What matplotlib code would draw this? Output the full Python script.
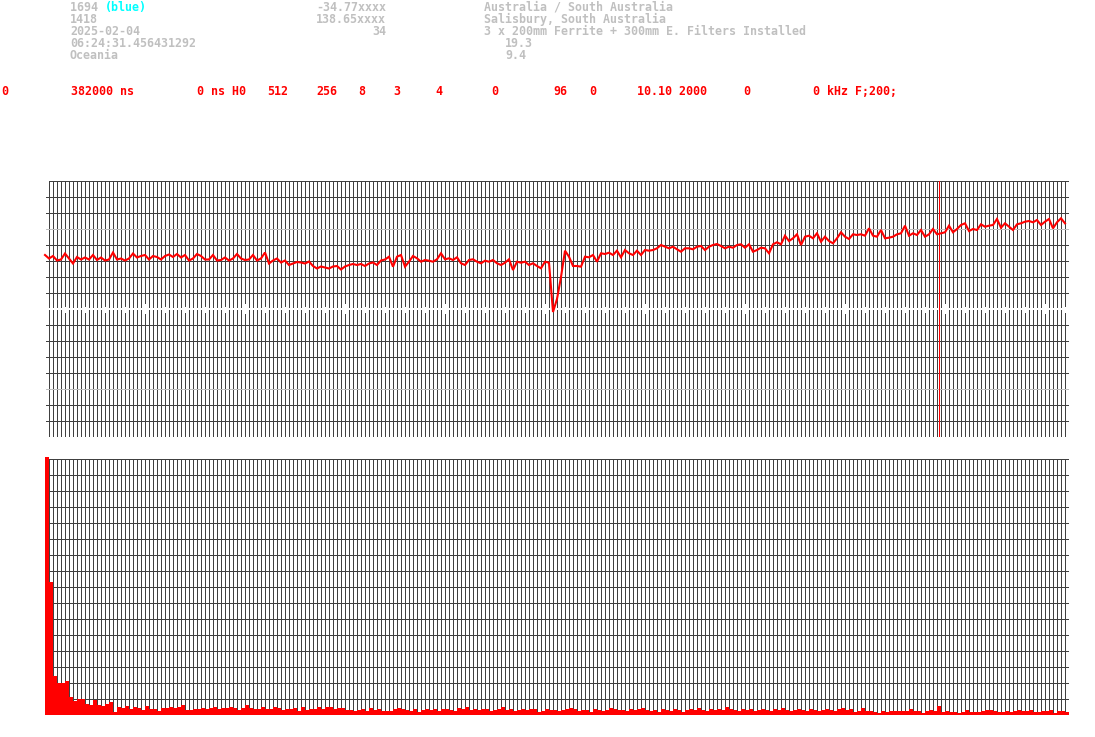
import numpy as np
import matplotlib
matplotlib.use("Agg")
import matplotlib.pyplot as plt

# ---------------- data ----------------
header_col1 = ["1694 ", "1418", "2025-02-04", "06:24:31.456431292", "Oceania"]
header_blue = "(blue)"
header_col2 = ["-34.77xxxx", "138.65xxxx", "34"]
header_col3 = ["Australia / South Australia", "Salisbury, South Australia",
               "3 x 200mm Ferrite + 300mm E. Filters Installed"]
header_col3b = ["19.3", "9.4"]
status_tokens = ["0", "382000 ns", "0 ns H0", "512", "256", "8", "3", "4", "0",
                 "96", "0", "10.10 2000", "0", "0 kHz F;200;"]
status_x = [1, 71, 197, 267, 316, 358, 393, 435, 491, 553, 589, 637, 743, 813]

# waveform amplitude (256 samples, centre line = 0, panel = +-128)
trace = [
    54, 50.5, 53, 48.5, 49.5, 55.5, 50.5, 45.5, 52, 49.5,
    51.5, 49.5, 54, 49, 51.5, 48.5, 49.5, 56.5, 49.5, 50.5,
    48.5, 50.5, 55.5, 51.5, 53, 54, 49.5, 53, 52, 49.5,
    53, 54.5, 52, 55, 51.5, 54, 48.5, 50.5, 55, 53,
    49.5, 49.5, 54, 48.5, 49, 51.5, 48.5, 50.5, 55, 50.5,
    49, 49.5, 54, 48.5, 50.5, 56.5, 45.5, 48.5, 50.5, 46.5,
    48.5, 44, 45.5, 47, 46.5, 45.5, 47.5, 43, 40.5, 42.5,
    41.5, 40.5, 42.5, 43, 39.5, 42.5, 44, 45, 44, 45,
    43, 45.5, 46.5, 44, 48.5, 49.5, 52.3, 42.3, 52.3, 54,
    42.3, 47.3, 53, 50.7, 47.3, 49, 48.3, 47.3, 49.7, 55.7,
    49.7, 50.7, 49, 51.7, 45.7, 44, 49, 49.7, 47.3, 45.7,
    48.3, 47.3, 49, 45.7, 44, 46.3, 49.7, 39, 47.3, 46.3,
    47.3, 44, 45.7, 43, 40.7, 47.3, 46.3, -3, 10, 32,
    58.3, 52.3, 43, 43, 42.3, 52.3, 51.7, 54, 47.3, 55.7,
    55, 56.3, 54, 58.3, 51.7, 59, 55.7, 54, 58.3, 54,
    59, 58.3, 59, 60.7, 64, 62.3, 60.7, 62.3, 59.7, 57.3,
    60.7, 60.7, 59.7, 62.3, 63, 59, 62.3, 64, 65, 63,
    60.7, 62.3, 61.3, 64, 64.7, 61.3, 64.7, 57.3, 59, 61.3,
    60.7, 55.7, 64.7, 66.7, 64.7, 73.3, 68, 70.7, 74.7, 64,
    72.3, 73.3, 70.7, 75.7, 67.3, 72.3, 68, 65.7, 70.7, 76.7,
    72.3, 70, 74.7, 74, 74.7, 73.3, 80.7, 73.3, 72.3, 79,
    70.7, 71.3, 72.3, 74.7, 75.7, 83.3, 73.3, 75.7, 74, 79,
    72.3, 74.7, 80, 74.7, 75.7, 76.7, 83.3, 76.7, 80, 84,
    85.7, 78, 80, 79, 84.7, 82.3, 83.3, 84, 90, 81.3,
    85.7, 82.3, 79, 84.7, 85.7, 87.3, 88, 86.7, 89, 84,
    87.3, 90, 80.7, 86.7, 90.7, 85.7,
]

# spectrum bars (256 bins)
spectrum = [
    258, 133, 39, 32, 32, 34, 18, 14, 16, 16,
    11, 10, 15, 10, 9, 11, 13, 3, 8, 7,
    9, 6, 8, 7, 5, 9, 6, 6, 4, 7,
    7, 8, 7, 8, 10, 5, 5, 6, 6, 7,
    6, 7, 8, 6, 7,
    7, 8, 7, 5, 7, 10, 7, 6, 6, 8,
    6, 6, 8, 7, 5, 6, 6, 7, 4, 8,
    5, 6, 6, 8, 6, 8, 8, 6, 7, 7,
    5, 5, 4, 5, 6, 4, 7, 5, 6, 4,
    4, 4, 6, 7, 6, 5, 4, 6, 3, 5,
    6, 5, 6, 4, 6, 6, 5, 4, 7, 6,
    8, 5, 6, 5, 6, 6, 4, 5, 6, 8,
    5, 6, 4, 5, 6, 5, 6, 6, 3, 4,
    6, 5, 5, 4, 5, 6, 7, 6, 4, 5,
    5, 3, 6, 5, 4, 5, 7, 6, 5, 5,
    4, 6, 5, 6, 7, 5, 4, 5, 3, 6,
    5, 4, 6, 5, 3, 5, 6, 5, 7, 5,
    4, 6, 5, 6, 5, 8, 6, 5, 4, 6,
    5, 6, 4, 5, 6, 5, 4, 6, 5, 7,
    5, 4, 5, 6, 5, 4, 6, 5, 4, 5,
    6, 5, 4, 6, 7, 5, 6,
    3, 4, 7, 4, 4, 3, 2, 4, 3, 4,
    4, 4, 4, 4, 6, 4, 4, 2, 4, 5,
    4, 9, 3, 4, 3, 3, 2, 3, 5, 3,
    3, 3, 4, 5, 5, 4, 3, 3, 4, 3,
    4, 5, 4, 4, 5, 3, 3, 4, 4, 5,
    2, 4, 4, 3,
]
marker_pos = 223.5   # red marker line in the waveform panel

# ---------------- figure ----------------
W, H = 1095, 737
fig = plt.figure(figsize=(W / 100, H / 100), dpi=100)
fig.patch.set_facecolor("white")

def box(x0, y0, x1, y1):
    return [x0 / W, 1 - y1 / H, (x1 - x0) / W, (y1 - y0) / H]

GRID = "#404040"
LIGHT = "#c0c0c0"
PX = 0.72  # one pixel in points

ax1 = fig.add_axes(box(45, 181, 1069, 437))
ax1.set_xlim(0, 256)
ax1.set_ylim(-128, 128)
ax1.axis("off")

ax2 = fig.add_axes(box(45, 459, 1069, 715))
ax2.set_xlim(0, 256)
ax2.set_ylim(0, 256)
ax2.axis("off")

cols = np.arange(1, 257)

# top panel grid
ax1.vlines(cols, -128, 128, colors=GRID, lw=PX, antialiased=False, zorder=1)
for k in range(17):
    lvl = -128 + 16 * k
    if lvl == 0:
        continue
    c = LIGHT if abs(lvl) == 80 else GRID
    x0 = 1 if k == 16 else 0.25
    ax1.hlines(lvl, x0, 256, colors=c, lw=PX, antialiased=False, zorder=2)
# white centre line with ticks
ax1.hlines(0, 0.25, 256, colors="white", lw=2 * PX, antialiased=False, zorder=3)
tick_x = np.arange(0, 256, 5)
small = tick_x[tick_x % 25 != 0]
big = tick_x[tick_x % 25 == 0]
ax1.vlines(small, -2.5, 2.5, colors="white", lw=PX, antialiased=False, zorder=3)
ax1.vlines(big, -5, 5, colors="white", lw=PX * 1.5, antialiased=False, zorder=3)
ax1.vlines([marker_pos], -128, 128, colors="red", lw=PX, antialiased=False, zorder=4)
ax1.plot(np.arange(len(trace)), trace, color="red", lw=1.5, zorder=5, clip_on=False,
         solid_joinstyle="miter")

# bottom panel grid + bars
ax2.vlines(cols, 0, 256, colors=GRID, lw=PX, antialiased=False, zorder=1)
for k in range(17):
    lvl = 16 * k
    x0 = 1 if k == 16 else 0.25
    ax2.hlines(lvl, x0, 256, colors=GRID, lw=PX, antialiased=False, zorder=2)
ax2.bar(np.arange(len(spectrum)), spectrum, width=1, align="edge", color="red",
        linewidth=0, zorder=3, clip_on=False)

# ---------------- text ----------------
FONT = dict(family="DejaVu Sans Mono", weight="bold", fontsize=8.4)

def txt(x, y, s, color, ha="left"):
    fig.text(x / W, 1 - y / H, s, color=color, ha=ha, va="baseline", **FONT)

for i, s in enumerate(header_col1):
    txt(70, 11 + 12 * i, s, LIGHT)
txt(105, 11, header_blue, "#00ffff")
for i, s in enumerate(header_col2):
    txt(386, 11 + 12 * i, s, LIGHT, ha="right")
for i, s in enumerate(header_col3):
    txt(484, 11 + 12 * i, s, LIGHT)
for i, s in enumerate(header_col3b):
    txt(505, 47 + 12 * i, s, LIGHT)
for x, s in zip(status_x, status_tokens):
    txt(x, 95, s, "red")

fig.savefig("out.png", dpi=100)
